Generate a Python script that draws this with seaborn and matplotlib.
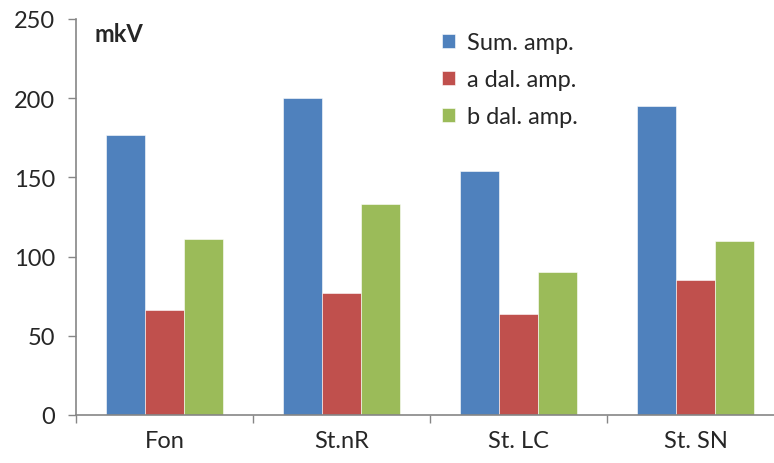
import matplotlib
matplotlib.use("Agg")
import matplotlib.pyplot as plt
import seaborn as sns
import pandas as pd

categories = ["Fon", "St.nR", "St. LC", "St. SN"]
series = ["Sum. amp.", "a dal. amp.", "b dal. amp."]
sum_amp = [177, 200, 154, 195]
a_dal = [66, 77, 64, 85]
b_dal = [111, 133, 90, 110]
colors = ["#4F81BD", "#C0504D", "#9BBB59"]
yticks = [0, 50, 100, 150, 200, 250]

rows = []
for name, vals in zip(series, [sum_amp, a_dal, b_dal]):
    for c, v in zip(categories, vals):
        rows.append({"cat": c, "series": name, "val": v})
df = pd.DataFrame(rows)

sns.set_style("white")
plt.rcParams['font.family'] = ['Lato', 'DejaVu Sans']

fig = plt.figure(figsize=(7.74, 4.64), dpi=100)
W, H = 774, 464
ax = fig.add_axes([76 / W, (H - 416) / H, 708 / W, 396 / H])

sns.barplot(data=df, x="cat", y="val", hue="series", palette=colors,
            width=0.66, ax=ax, saturation=1, edgecolor="white", linewidth=0.4,
            legend=True)

FS = 17
ax.set_xlim(-0.5, 3.5)
ax.set_ylim(0, 250)
ax.set_yticks(yticks)
ax.set_yticklabels([str(t) for t in yticks], fontsize=FS)
ax.set_xticks([0, 1, 2, 3])
ax.set_xticklabels(categories, fontsize=FS)
ax.tick_params(axis="x", length=0, pad=11)
ax.tick_params(axis="y", length=6, width=1, color="#868686", direction="out", left=True, pad=9)
ax.set_xticks([-0.5, 0.5, 1.5, 2.5], minor=True)
ax.tick_params(axis="x", which="minor", length=5.5, width=1, color="#868686", direction="out", bottom=True)
ax.set_xlabel("")
ax.set_ylabel("")

for s in ["top", "right"]:
    ax.spines[s].set_visible(False)
for s in ["left", "bottom"]:
    ax.spines[s].set_color("#868686")
    ax.spines[s].set_linewidth(1.2)

ax.text(94 / W, (H - 34) / H, "mkV", transform=fig.transFigure, fontsize=FS,
        fontweight="bold", va="center", ha="left")

handles, labels = ax.get_legend_handles_labels()
ax.legend(handles, labels, loc="upper left", bbox_to_anchor=(421 / W, (H - 12) / H),
          bbox_transform=fig.transFigure, frameon=False, fontsize=FS,
          handlelength=0.55, handleheight=0.55, handletextpad=0.5, labelspacing=0.68)

fig.savefig("out.png", dpi=100)
